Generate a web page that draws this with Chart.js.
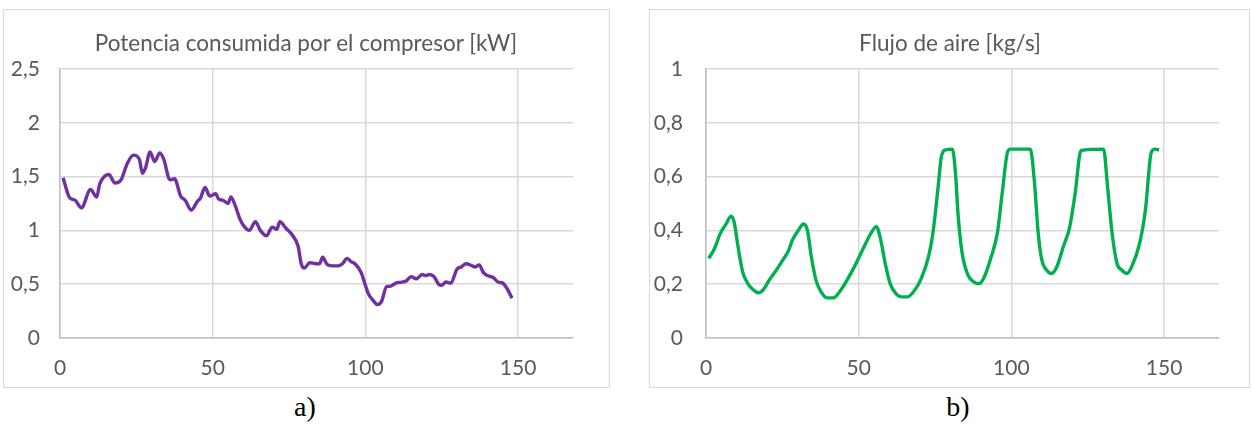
<!DOCTYPE html>
<html>
<head>
<meta charset="utf-8">
<script src="https://cdn.jsdelivr.net/npm/chart.js@4/dist/chart.umd.min.js"></script>
<style>
  html, body { margin: 0; padding: 0; background: #fff; }
  body { width: 1252px; height: 432px; position: relative; overflow: hidden; }
  .box { position: absolute; top: 9px; height: 377px; border: 1px solid #d9d9d9; }
  #boxA { left: 3px; width: 605px; }
  #boxB { left: 649px; width: 599px; }
  .ttl { position: absolute; top: 29px; width: 500px; height: 28px; line-height: 28px; text-align: center; font-family: Lato, sans-serif; font-size: 22.5px; color: #595959; white-space: nowrap; }
  #ttlA { left: 56px; }
  #ttlB { left: 700px; }
  .cap { position: absolute; top: 391px; width: 80px; text-align: center; font-family: "Liberation Serif", "Times New Roman", serif; font-size: 28px; color: #000; }
  #capA { left: 265px; }
  #capB { left: 918px; }
</style>
</head>
<body>
<div class="box" id="boxA"><canvas id="chartA" width="605" height="377"></canvas></div>
<div class="box" id="boxB"><canvas id="chartB" width="599" height="377"></canvas></div>
<div class="ttl" id="ttlA"></div>
<div class="ttl" id="ttlB"></div>
<div class="cap" id="capA">a)</div>
<div class="cap" id="capB">b)</div>
<script>
// a) compressor power [kW] vs time
const titleA = 'Potencia consumida por el compresor [kW]';
const xA = [1, 3, 4, 5, 7, 10, 12, 13, 16, 18, 20, 22, 24, 26, 27, 28, 29.5, 31, 32.7, 34,
  36, 37.5, 39.5, 41, 43, 45, 46, 47.5, 49, 51, 52, 53.4, 55, 56, 57.5, 59, 60.5, 62, 64, 65.6,
  67.6, 69.5, 71, 72, 74, 76, 78, 79, 80, 81.8, 83.7, 85, 86, 87.6, 89.5, 91, 92.5, 94, 95.3, 96.6,
  98.6, 100, 101, 102.5, 104, 105.3, 107, 108, 110, 112, 113.4, 115, 116.7, 118.6, 119.6, 121, 122.5, 124, 125, 126.4,
  128, 130, 131.4, 133, 135, 136, 137.3, 138.6, 140, 142, 143.4, 145, 146.4, 148];
const yA = [1.49, 1.31, 1.29, 1.28, 1.21, 1.38, 1.31, 1.43, 1.52, 1.44, 1.47, 1.62, 1.70, 1.66, 1.53, 1.58, 1.73, 1.64, 1.72, 1.66,
  1.47, 1.48, 1.32, 1.28, 1.19, 1.27, 1.30, 1.40, 1.32, 1.34, 1.29, 1.28, 1.25, 1.31, 1.22, 1.10, 1.03, 1.00, 1.08, 1.00,
  0.95, 1.03, 1.01, 1.08, 1.02, 0.96, 0.85, 0.69, 0.65, 0.70, 0.69, 0.69, 0.75, 0.68, 0.67, 0.67, 0.69, 0.74, 0.71, 0.69,
  0.61, 0.49, 0.41, 0.35, 0.31, 0.34, 0.48, 0.48, 0.51, 0.52, 0.53, 0.57, 0.55, 0.59, 0.58, 0.59, 0.57, 0.50, 0.49, 0.52,
  0.51, 0.64, 0.66, 0.69, 0.67, 0.66, 0.68, 0.61, 0.58, 0.56, 0.52, 0.51, 0.46, 0.37];
const yTicksA = [0, 0.5, 1, 1.5, 2, 2.5];

// b) air flow [kg/s] vs time
const titleB = 'Flujo de aire [kg/s]';
const xB = [0.9, 2.8, 4.7, 6.6, 8.2, 9.2, 10.5, 12, 13.7, 15.6, 17.2, 18.8, 20.7, 23.2, 25.1, 27, 28.3, 30.3, 31.9, 33.2,
  34.5, 36, 37.9, 39.8, 41.7, 43.7, 46.2, 49.4, 52, 54, 55.8, 57, 58.7, 60.3, 62.2, 64.1, 66, 67.9, 70.5, 73,
  74.3, 75.8, 77.1, 78.4, 80.7, 81.7, 82.6, 83.9, 85.8, 87.7, 89.4, 90.9, 93.4, 95.4, 97, 98.8, 99.8, 106.2, 107.5, 108.8,
  110, 111.6, 113.2, 114.9, 117, 119, 120.9, 122.8, 130.2, 131.5, 133, 134.6, 136.2, 137.9, 139.4, 142, 143.9, 145.8, 147, 148.4];
const yB = [0.296, 0.333, 0.389, 0.424, 0.453, 0.432, 0.339, 0.246, 0.202, 0.178, 0.168, 0.180, 0.215, 0.255, 0.289, 0.324, 0.364, 0.401, 0.424, 0.401,
  0.302, 0.215, 0.168, 0.149, 0.149, 0.171, 0.215, 0.283, 0.345, 0.389, 0.414, 0.376, 0.277, 0.202, 0.165, 0.153, 0.153, 0.171, 0.221, 0.308,
  0.389, 0.538, 0.675, 0.699, 0.702, 0.612, 0.451, 0.314, 0.234, 0.209, 0.202, 0.221, 0.302, 0.389, 0.538, 0.693, 0.702, 0.702, 0.588, 0.389,
  0.289, 0.252, 0.240, 0.265, 0.339, 0.407, 0.538, 0.697, 0.702, 0.563, 0.389, 0.277, 0.252, 0.240, 0.265, 0.352, 0.476, 0.689, 0.702, 0.699];
const yTicksB = [0, 0.2, 0.4, 0.6, 0.8, 1];

const xTicks = [0, 50, 100, 150];
const xMax = 168;

const txt = '#595959';
const grid = '#d9d9d9';

document.getElementById('ttlA').textContent = titleA;
document.getElementById('ttlB').textContent = titleB;

function makeChart(id, xs, ys, yTicks, color, padR, yPad) {
  const points = xs.map((x, i) => ({ x: x, y: ys[i] }));
  return new Chart(document.getElementById(id), {
    type: 'scatter',
    data: {
      datasets: [{
        data: points,
        showLine: true,
        borderColor: color,
        borderWidth: 3.4,
        pointRadius: 0,
        cubicInterpolationMode: 'monotone',
        fill: false
      }]
    },
    options: {
      responsive: false,
      animation: false,
      layout: { padding: { left: 0, right: padR, top: 59, bottom: 0 } },
      plugins: {
        legend: { display: false },
        tooltip: { enabled: false },
        title: { display: false }
      },
      scales: {
        x: {
          type: 'linear',
          min: 0,
          max: xMax,
          afterBuildTicks: s => { s.ticks = xTicks.map(v => ({ value: v })); },
          afterFit: s => { s.height = 49; },
          ticks: { color: txt, font: { family: 'Lato', size: 21 }, padding: 18, includeBounds: false },
          grid: { color: grid, lineWidth: 1.5, drawTicks: false },
          border: { color: '#bfbfbf', width: 1.5 }
        },
        y: {
          type: 'linear',
          min: yTicks[0],
          max: yTicks[yTicks.length - 1],
          afterBuildTicks: s => { s.ticks = yTicks.map(v => ({ value: v })); },
          afterFit: s => { s.width = 56; },
          ticks: {
            color: txt,
            font: { family: 'Lato', size: 21 },
            padding: yPad,
            callback: v => String(v).replace('.', ',')
          },
          grid: { color: grid, lineWidth: 1.5, drawTicks: false },
          border: { color: '#bfbfbf', width: 1.5 }
        }
      }
    }
  });
}

makeChart('chartA', xA, yA, yTicksA, '#7030a0', 36, 20);
makeChart('chartB', xB, yB, yTicksB, '#00b050', 30, 23);
</script>
</body>
</html>
